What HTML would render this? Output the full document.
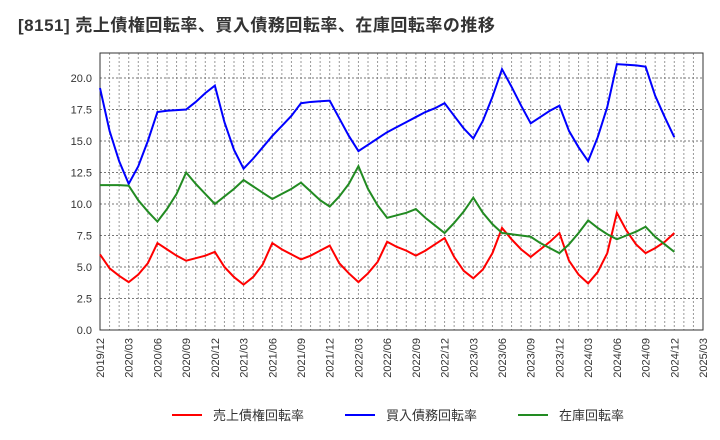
<!DOCTYPE html>
<html><head><meta charset="utf-8"><style>
body{margin:0;background:#fff;font-family:"Liberation Sans","Noto Sans CJK JP",sans-serif;}
</style></head><body>
<svg id="c" width="720" height="440" xmlns="http://www.w3.org/2000/svg" style="display:block">
<text x="18" y="31" font-size="17" font-weight="bold" fill="#333" letter-spacing="0.5" font-family="Liberation Sans,Noto Sans CJK JP,sans-serif">[8151]  売上債権回転率、買入債務回転率、在庫回転率の推移</text>
</svg>
<script>
const red=[6.0,4.9,4.3,3.8,4.4,5.3,6.9,6.4,5.9,5.5,5.7,5.9,6.2,5.0,4.2,3.6,4.2,5.2,6.9,6.4,6.0,5.6,5.9,6.3,6.7,5.3,4.5,3.8,4.5,5.4,7.0,6.6,6.3,5.9,6.3,6.8,7.3,5.8,4.7,4.1,4.8,6.1,8.1,7.2,6.4,5.8,6.4,7.0,7.7,5.5,4.4,3.7,4.6,6.1,9.3,7.9,6.8,6.1,6.5,7.0,7.7];
const blue=[19.2,15.8,13.4,11.6,13.0,15.0,17.3,17.4,17.45,17.5,18.1,18.8,19.4,16.5,14.3,12.8,13.6,14.5,15.4,16.2,17.0,18.0,18.1,18.15,18.2,16.8,15.4,14.2,14.7,15.2,15.7,16.1,16.5,16.9,17.3,17.6,18.0,17.0,16.0,15.2,16.6,18.5,20.7,19.3,17.8,16.4,16.9,17.4,17.8,15.8,14.5,13.4,15.3,17.7,21.1,21.05,21.0,20.9,18.6,16.9,15.3];
const green=[11.5,11.5,11.5,11.45,10.3,9.4,8.6,9.6,10.8,12.5,11.6,10.8,10.0,10.6,11.2,11.9,11.4,10.9,10.4,10.8,11.2,11.7,11.0,10.3,9.8,10.6,11.6,13.0,11.2,9.9,8.9,9.1,9.3,9.6,8.9,8.3,7.7,8.5,9.4,10.5,9.3,8.4,7.7,7.6,7.5,7.4,6.9,6.5,6.1,6.8,7.7,8.7,8.1,7.6,7.2,7.5,7.8,8.2,7.4,6.8,6.2];
const yTicks=[0,2.5,5,7.5,10,12.5,15,17.5,20];
const xLabels=["2019/12","2020/03","2020/06","2020/09","2020/12","2021/03","2021/06","2021/09","2021/12","2022/03","2022/06","2022/09","2022/12","2023/03","2023/06","2023/09","2023/12","2024/03","2024/06","2024/09","2024/12","2025/03"];
const NS="http://www.w3.org/2000/svg",svg=document.getElementById('c');
const L=100,R=703,T=53,B=330,months=63;
const x=i=>L+i*(R-L)/months, y=v=>B-v*(330-78)/20;
function mk(t,a,p){const e=document.createElementNS(NS,t);for(const k in a)e.setAttribute(k,a[k]);(p||svg).appendChild(e);return e;}
const grid=mk('g',{});
for(let i=1;i<months;i++){mk('line',{x1:x(i),x2:x(i),y1:T,y2:B,stroke:'#999','stroke-dasharray':'2,2','stroke-width':1},grid);}
yTicks.forEach(v=>{if(v>0)mk('line',{x1:L,x2:R,y1:y(v),y2:y(v),stroke:'#777','stroke-dasharray':'2,2','stroke-width':1},grid);
const t=mk('text',{x:L-8,y:y(v)+4,'text-anchor':'end','font-size':11,fill:'#333'});t.textContent=v.toFixed(1);
});
xLabels.forEach((s,k)=>{const px=x(k*3),py=B+8;const t=mk('text',{x:px+4,y:py,'text-anchor':'end','font-size':11,fill:'#333',transform:`rotate(-90 ${px+4} ${py})`});t.textContent=s;
});
const fr=mk('rect',{x:L,y:T,width:R-L,height:B-T,fill:'none',stroke:'#333','stroke-width':1});

[[red,'#ff0000','receivables-turnover-line'],[blue,'#0000ff','payables-turnover-line'],[green,'#228b22','inventory-turnover-line']].forEach(([d,c,n])=>{
const p=mk('polyline',{points:d.map((v,i)=>x(i)+','+y(v)).join(' '),fill:'none',stroke:c,'stroke-width':2});
});
const leg=[['売上債権回転率','#ff0000',172],['買入債務回転率','#0000ff',345],['在庫回転率','#228b22',518]];
leg.forEach(([s,c,lx])=>{const g=mk('g',{});
mk('line',{x1:lx,x2:lx+30,y1:415,y2:415,stroke:c,'stroke-width':2},g);
const t=mk('text',{x:lx+41,y:420,'font-size':13,fill:'#333'},g);t.textContent=s;});
</script>
</body></html>
